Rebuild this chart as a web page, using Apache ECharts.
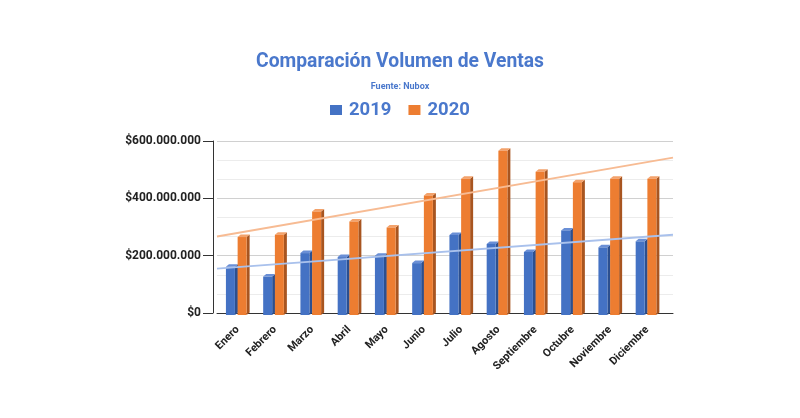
<!DOCTYPE html>
<html>
<head>
<meta charset="utf-8">
<script src="https://cdn.jsdelivr.net/npm/echarts@6/dist/echarts.min.js"></script>
<style>
html,body{margin:0;padding:0;background:#fff;}
#chart{width:800px;height:418px;}
</style>
</head>
<body>
<div id="chart"></div>
<script>
var months = ['Enero','Febrero','Marzo','Abril','Mayo','Junio','Julio','Agosto','Septiembre','Octubre','Noviembre','Diciembre'];
var ventas2019 = [161000000,127000000,209000000,195000000,200000000,174000000,272000000,241000000,213000000,288000000,229000000,250000000];
var ventas2020 = [265000000,273000000,354000000,319000000,298000000,410000000,468000000,566000000,493000000,456000000,468000000,468000000];
var yTicks = [0,200000000,400000000,600000000];

function regression(vals){
  var n = vals.length, mx = (n-1)/2, my = 0, sxy = 0, sxx = 0;
  vals.forEach(function(v){ my += v; }); my /= n;
  vals.forEach(function(v,i){ sxy += (i-mx)*(v-my); sxx += (i-mx)*(i-mx); });
  var b = sxy/sxx, a = my - b*mx;
  return function(x){ return a + b*x; };
}
var trendXMin = -0.554, trendXMax = 11.67;
function trendData(vals){
  var f = regression(vals);
  return [[trendXMin, f(trendXMin)], [trendXMax, f(trendXMax)]];
}
function fmt(v){
  return '$' + String(Math.round(v)).replace(/\B(?=(\d{3})+(?!\d))/g, '.');
}

var COLORS = {
  '2019': {front:'#4472c4', side:'#2c4f8f', top:'#6a8fd6'},
  '2020': {front:'#ed7d31', side:'#a85520', top:'#f3a26b'}
};
function makeRender(key, offset){
  var c = COLORS[key];
  return function(params, api){
    var idx = api.value(0), val = api.value(1);
    var top = api.coord([idx, val]);
    var base = api.coord([idx, 0]);
    var x0 = top[0] + offset, w = 9, dx = 3, dy = 2.5;
    var yt = top[1], yb = base[1] + 2;
    return {
      type:'group',
      children:[
        {type:'polygon', shape:{points:[[x0+w,yt],[x0+w+dx,yt-dy],[x0+w+dx,yb-dy],[x0+w,yb]]}, style:{fill:c.side}},
        {type:'polygon', shape:{points:[[x0,yt],[x0+dx,yt-dy],[x0+w+dx,yt-dy],[x0+w,yt]]}, style:{fill:c.top}},
        {type:'rect', shape:{x:x0, y:yt, width:w, height:yb-yt}, style:{fill:c.front}}
      ]
    };
  };
}

var chart = echarts.init(document.getElementById('chart'), null, {renderer:'canvas'});
var FONT = 'Roboto';
chart.setOption({
  backgroundColor:'#ffffff',
  animation:false,
  title:{
    text:'Comparación Volumen de Ventas',
    subtext:'Fuente: Nubox',
    left:'center', top:47, itemGap:10,
    textStyle:{fontFamily:FONT, fontWeight:'bold', fontSize:19.3, lineHeight:20, color:'#4a78cc'},
    subtextStyle:{fontFamily:FONT, fontWeight:'bold', fontSize:9, lineHeight:10, color:'#4a78cc'}
  },
  legend:{
    data:[{name:'2019', itemStyle:{color:'#4472c4'}},{name:'2020', itemStyle:{color:'#ed7d31'}}],
    left:325, top:95, icon:'rect', itemWidth:12, itemHeight:10, itemGap:17,
    textStyle:{fontFamily:FONT, fontWeight:'bold', fontSize:18.5, lineHeight:20, color:'#4a78cc', padding:[0,0,0,2]}
  },
  grid:[
    {left:217, right:127, top:141, bottom:105},
    {left:219, right:134, top:141, bottom:105}
  ],
  xAxis:[
    {gridIndex:0, type:'value', min:trendXMin, max:trendXMax, show:true,
     axisLine:{show:true, onZero:false, lineStyle:{color:'#333', width:1}},
     axisTick:{show:false}, axisLabel:{show:false}, splitLine:{show:false}},
    {gridIndex:1, type:'category', data:months,
     axisLine:{show:false}, axisTick:{show:false},
     axisLabel:{rotate:45, margin:15, interval:0, fontFamily:FONT, fontWeight:'bold', fontSize:11, color:'#222'}}
  ],
  yAxis:[
    {gridIndex:0, type:'value', min:0, max:600000000, interval:200000000,
     axisLine:{show:false}, axisTick:{show:false}, axisLabel:{show:false},
     splitLine:{show:true, lineStyle:{color:'#d0d0d0', width:1}},
     minorTick:{show:false, splitNumber:3},
     minorSplitLine:{show:true, lineStyle:{color:'#ececec', width:1}}},
    {gridIndex:1, type:'value', min:yTicks[0], max:yTicks[yTicks.length-1], interval:200000000, offset:6,
     axisLine:{show:true, lineStyle:{color:'#333', width:1}},
     axisTick:{show:true, length:10, lineStyle:{color:'#333'}},
     splitLine:{show:false},
     axisLabel:{margin:12, fontFamily:FONT, fontWeight:'bold', fontSize:12, color:'#222', formatter:fmt}}
  ],
  series:[
    {name:'2019', type:'custom', xAxisIndex:1, yAxisIndex:1, renderItem:makeRender('2019', -11.7),
     data:ventas2019.map(function(v,i){return [i,v];}), itemStyle:{color:'#4472c4'}, z:3},
    {name:'2020', type:'custom', xAxisIndex:1, yAxisIndex:1, renderItem:makeRender('2020', 0),
     data:ventas2020.map(function(v,i){return [i,v];}), itemStyle:{color:'#ed7d31'}, z:3},
    {name:'Tendencia 2019', type:'line', xAxisIndex:0, yAxisIndex:0, data:trendData(ventas2019),
     symbol:'none', lineStyle:{color:'#a9c1ec', width:2}, z:5, silent:true},
    {name:'Tendencia 2020', type:'line', xAxisIndex:0, yAxisIndex:0, data:trendData(ventas2020),
     symbol:'none', lineStyle:{color:'#f7bb93', width:2}, z:5, silent:true}
  ]
});
</script>
</body>
</html>
